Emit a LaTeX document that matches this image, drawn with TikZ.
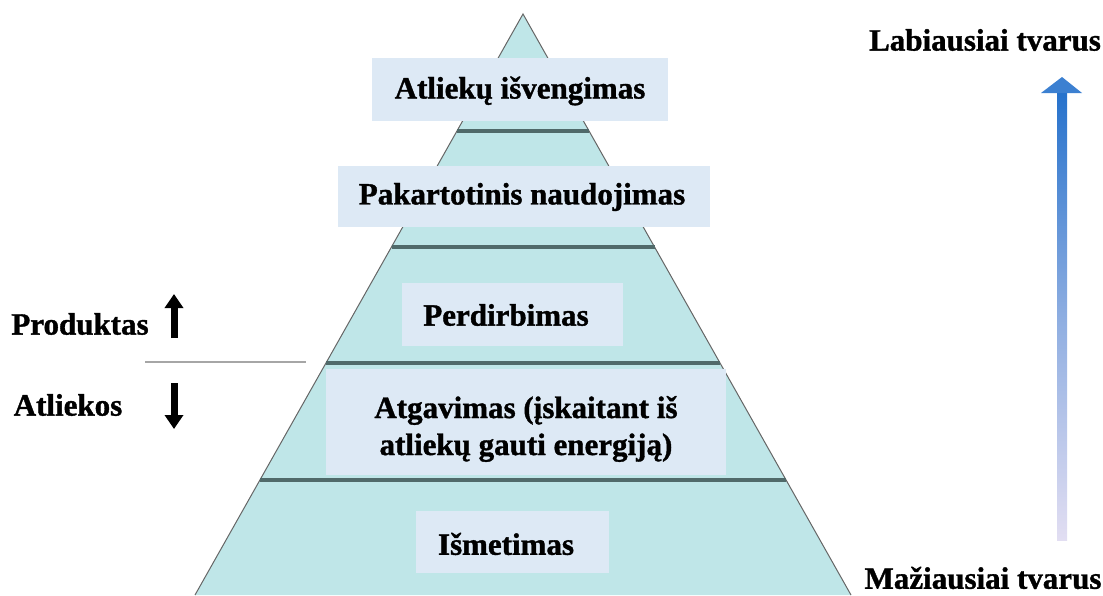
\documentclass[tikz,border=0pt]{standalone}
\usepackage{fontspec}
\setmainfont{Liberation Serif}
\newfontfamily\heavyfont{Liberation Serif Bold}[FakeBold=1.2]
\usetikzlibrary{arrows.meta}
\definecolor{pyr}{HTML}{BFE6E8}
\definecolor{boxc}{HTML}{DDE9F5}
\definecolor{divc}{HTML}{506A6A}
\definecolor{arrtop}{HTML}{2672CC}
\definecolor{arrbot}{HTML}{E2DEF2}
\tikzset{
  box/.style={fill=boxc, draw=none, inner sep=0pt},
  lbl/.style={font=\heavyfont\fontsize{31}{37}\selectfont, inner sep=0pt, align=center},
  divider/.style={draw=divc, line width=3.2pt},
  blackarrow/.style={line width=7pt, -{Triangle[width=18pt,length=14pt]}},
}
\begin{document}
\begin{tikzpicture}[x=1pt,y=-1pt]
\useasboundingbox (0,0) rectangle (1103,595);
% pyramid
\coordinate (apex) at (523,14);
\coordinate (bl) at (195,595);
\coordinate (br) at (851,595);
\fill[pyr] (apex) -- (br) -- (bl) -- cycle;
\draw[gray!80!black, line width=1pt] (bl) -- (apex) -- (br);
% dividers
\coordinate (d1l) at (457,131); \coordinate (d1r) at (589,131);
\coordinate (d2l) at (391.5,247); \coordinate (d2r) at (654.5,247);
\coordinate (d3l) at (326,363); \coordinate (d3r) at (720,363);
\coordinate (d4l) at (260,480); \coordinate (d4r) at (786,480);
\draw[divider] (d1l) -- (d1r);
\draw[divider] (d2l) -- (d2r);
\draw[divider] (d3l) -- (d3r);
\draw[divider] (d4l) -- (d4r);
% boxes
\node[box, minimum width=296pt, minimum height=63pt] (b1) at (520,89.5) {};
\node[box, minimum width=372pt, minimum height=61pt] (b2) at (524,196.5) {};
\node[box, minimum width=221pt, minimum height=63pt] (b3) at (512.5,314.5) {};
\node[box, minimum width=400pt, minimum height=106pt] (b4) at (526,422) {};
\node[box, minimum width=193pt, minimum height=62pt] (b5) at (512.5,542) {};
% texts
\node[lbl] (t1) at (520,91) {Atliekų išvengimas};
\node[lbl] (t2) at (522,197) {Pakartotinis naudojimas};
\node[lbl] (t3) at (506,315) {Perdirbimas};
\node[lbl] (t4) at (526,429) {Atgavimas (įskaitant iš\\atliekų gauti energiją)};
\node[lbl] (t5) at (506,544) {Išmetimas};
% left side
\node[lbl] (prod) at (80,324) {Produktas};
\node[lbl] (atl) at (68,405) {Atliekos};
\coordinate (upS) at (174,338);
\coordinate (upE) at (174,294);
\coordinate (dnS) at (174,383);
\coordinate (dnE) at (174,429);
\draw[blackarrow] (upS) -- (upE);
\draw[blackarrow] (dnS) -- (dnE);
\coordinate (gl) at (145,362);
\coordinate (gr) at (306,362);
\draw[gray!70, line width=2.2pt] (gl) -- (gr);
% right side
\node[lbl] (most) at (985,40) {Labiausiai tvarus};
\node[lbl] (least) at (983,578) {Mažiausiai tvarus};
\shade[bottom color=arrbot, top color=arrtop, middle color=arrtop!45!arrbot] (1057,92) rectangle (1067,540);
\fill[arrtop!90!white] (1041,93) -- (1062,77) -- (1082,93) -- cycle;
\end{tikzpicture}
\end{document}
